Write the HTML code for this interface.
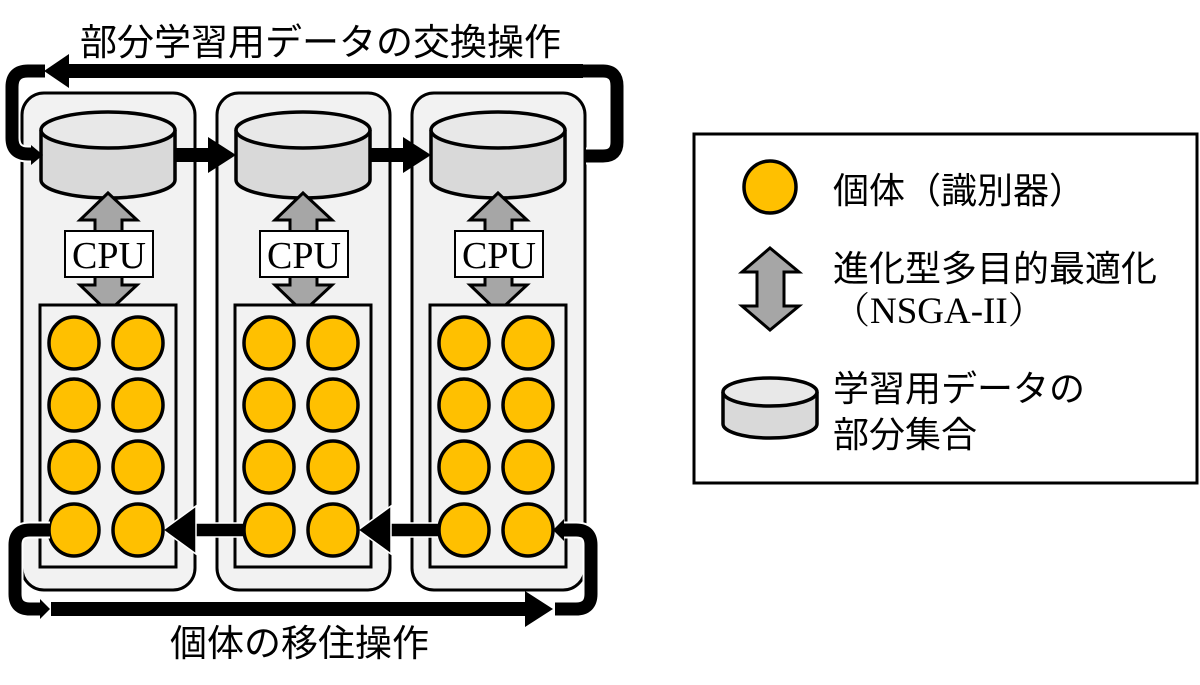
<!DOCTYPE html>
<html><head><meta charset="utf-8"><style>
html,body{margin:0;padding:0;background:#fff}
svg{display:block}
text{font-family:"Liberation Sans","Noto Sans CJK JP",sans-serif}
.ser{font-family:"Liberation Serif","Noto Serif CJK SC",serif}
</style></head><body>
<svg width="1200" height="685" viewBox="0 0 1200 685" xmlns="http://www.w3.org/2000/svg">
<defs>
<g id="col">
  <rect x="22" y="93" width="173" height="497" rx="22" fill="#f2f2f2" stroke="#000" stroke-width="3"/>
  <path d="M41,130 V180 A67,18 0 0 0 175,180 V130" fill="#d9d9d9" stroke="#000" stroke-width="3.5"/>
  <ellipse cx="108" cy="130" rx="67" ry="18" fill="#e8e8e8" stroke="#000" stroke-width="3.5"/>
  <polygon points="108,193 137,220 122,220 122,285 137,285 108,312 80,285 95,285 95,220 80,220" fill="#a6a6a6" stroke="#000" stroke-width="3"/>
  <rect x="65" y="231" width="88" height="46" fill="#fff" stroke="#000" stroke-width="2"/>
  <text x="109" y="268" class="ser" font-size="38" text-anchor="middle" fill="#000">CPU</text>
  <rect x="40" y="305" width="136" height="262" fill="#f2f2f2" stroke="#000" stroke-width="3"/>
  <g fill="#ffc000" stroke="#000" stroke-width="3.5">
    <ellipse cx="74" cy="343" rx="25" ry="26"/><ellipse cx="138" cy="343" rx="25" ry="26"/>
    <ellipse cx="74" cy="405" rx="25" ry="26"/><ellipse cx="138" cy="405" rx="25" ry="26"/>
    <ellipse cx="74" cy="467" rx="25" ry="26"/><ellipse cx="138" cy="467" rx="25" ry="26"/>
  </g>
</g>
</defs>
<use href="#col"/>
<use href="#col" x="195"/>
<use href="#col" x="390"/>

<g fill="#000" stroke="#fff" stroke-width="1.5">
  <rect x="185" y="523" width="60" height="14"/>
  <polygon points="163,530 196,506 196,554"/>
  <rect x="380" y="523" width="60" height="14"/>
  <polygon points="358,530 391,506 391,554"/>
</g>
<g fill="#ffc000" stroke="#000" stroke-width="3.5">
  <ellipse cx="74" cy="530" rx="25" ry="26"/><ellipse cx="138" cy="530" rx="25" ry="26"/>
  <ellipse cx="269" cy="530" rx="25" ry="26"/><ellipse cx="333" cy="530" rx="25" ry="26"/>
  <ellipse cx="464" cy="530" rx="25" ry="26"/><ellipse cx="528" cy="530" rx="25" ry="26"/>
</g>

<g fill="#000">
  <rect x="176" y="148" width="36" height="14"/>
  <polygon points="236,155 208,137 208,173"/>
  <rect x="371" y="148" width="36" height="14"/>
  <polygon points="431,155 403,137 403,173"/>
</g>

<path d="M583,71 H603 Q617,71 617,86 V142 Q617,156 603,156 H586" fill="none" stroke="#fff" stroke-width="17"/>
<path d="M583,71 H603 Q617,71 617,86 V142 Q617,156 603,156 H586" fill="none" stroke="#000" stroke-width="13"/>
<rect x="64" y="64" width="519" height="14" fill="#000"/>
<polygon points="44,71 69,54 69,88" fill="#000"/>
<path d="M45,71 H28 Q12,71 12,87 V138 Q12,154 28,154 H32" fill="none" stroke="#fff" stroke-width="17"/>
<path d="M45,71 H28 Q12,71 12,87 V138 Q12,154 28,154 H32" fill="none" stroke="#000" stroke-width="13"/>
<polygon points="43,155 31,145 31,165" fill="#000"/>

<path d="M50,530 H30 Q15,530 15,545 V594 Q15,609 30,609 H42" fill="none" stroke="#fff" stroke-width="17"/>
<path d="M50,530 H30 Q15,530 15,545 V594 Q15,609 30,609 H42" fill="none" stroke="#000" stroke-width="13"/>
<polygon points="50,609 40,599 40,619" fill="#000"/>
<rect x="51" y="602" width="478" height="14" fill="#000"/>
<polygon points="553,609 525,591 525,627" fill="#000"/>
<path d="M555,609 H576 Q591,609 591,594 V545 Q591,530 576,530 H562" fill="none" stroke="#fff" stroke-width="17"/>
<path d="M555,609 H576 Q591,609 591,594 V545 Q591,530 576,530 H562" fill="none" stroke="#000" stroke-width="13"/>
<polygon points="553,530 564,519 564,541" fill="#000"/>

<text x="80" y="55" font-size="37" fill="#000">部分学習用データの交換操作</text>
<text x="170" y="656" font-size="37" fill="#000">個体の移住操作</text>

<rect x="694" y="134" width="503" height="349" fill="#fff" stroke="#000" stroke-width="3"/>
<circle cx="770" cy="187" r="26" fill="#ffc000" stroke="#000" stroke-width="3.5"/>
<text x="833" y="203" font-size="36" fill="#000">個体（識別器）</text>
<polygon points="770,248 799,272 784,272 784,306 799,306 770,330 742,306 757,306 757,272 742,272" fill="#a6a6a6" stroke="#000" stroke-width="3"/>
<text x="833" y="281" font-size="36" fill="#000">進化型多目的最適化</text>
<text x="833" y="323" class="ser" font-size="37" fill="#000">（NSGA-II）</text>
<path d="M723,392 V424 A47,14 0 0 0 817,424 V392" fill="#d9d9d9" stroke="#000" stroke-width="3.5"/>
<ellipse cx="770" cy="392" rx="47" ry="14" fill="#e8e8e8" stroke="#000" stroke-width="3.5"/>
<text x="833" y="401" font-size="36" fill="#000">学習用データの</text>
<text x="833" y="447" font-size="36" fill="#000">部分集合</text>
</svg>
</body></html>
